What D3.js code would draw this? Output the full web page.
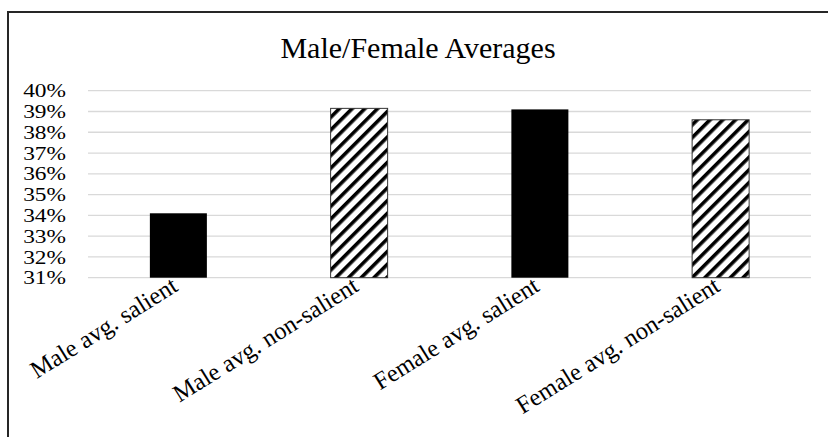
<!DOCTYPE html>
<html>
<head>
<meta charset="utf-8">
<script src="https://cdn.jsdelivr.net/npm/d3@7"></script>
<style>
  body { margin: 0; background: #fff; }
  svg { display: block; }
  text { font-family: "Liberation Serif", "Times New Roman", serif; fill: #000; }
</style>
</head>
<body>
<svg id="chart" width="828" height="437"></svg>
<script>
// Chart content
const chartTitle = "Male/Female Averages";
const categories = ["Male avg. salient", "Male avg. non-salient", "Female avg. salient", "Female avg. non-salient"];
const values = [0.341, 0.3915, 0.391, 0.386];
const barStyles = ["solid", "hatch", "solid", "hatch"];
const yTicks = [0.31, 0.32, 0.33, 0.34, 0.35, 0.36, 0.37, 0.38, 0.39, 0.40];

const svg = d3.select("#chart");
const W = 828, H = 437;
const plot = { left: 88, right: 811, top: 90.7, bottom: 277.7 };

// Diagonal hatch used by the non-salient bars
const defs = svg.append("defs");
const pat = defs.append("pattern")
  .attr("id", "hatch")
  .attr("patternUnits", "userSpaceOnUse")
  .attr("width", 9).attr("height", 9)
  .attr("patternTransform", "rotate(45)");
pat.append("rect").attr("width", 9).attr("height", 9).attr("fill", "#fff");
pat.append("rect").attr("x", 0).attr("width", 3.6).attr("height", 9).attr("fill", "#000");

// Chart frame
svg.append("path")
  .attr("d", `M8,${H} V12 H${W}`)
  .attr("fill", "none")
  .attr("stroke", "#262626")
  .attr("stroke-width", 2);

// Title
svg.append("text")
  .attr("x", 418).attr("y", 58)
  .attr("text-anchor", "middle")
  .attr("font-size", 30)
  .text(chartTitle);

const x = d3.scaleBand()
  .domain(categories)
  .range([plot.left, plot.right])
  .paddingInner(0.6846)
  .paddingOuter(0.3423);

const y = d3.scaleLinear()
  .domain([0.31, 0.40])
  .range([plot.bottom, plot.top]);

// Gridlines
svg.append("g")
  .selectAll("line")
  .data(yTicks)
  .join("line")
  .attr("x1", plot.left).attr("x2", plot.right)
  .attr("y1", d => y(d)).attr("y2", d => y(d))
  .attr("stroke", "#d9d9d9")
  .attr("stroke-width", 1.3);

// Y axis labels (slightly widened serif digits)
const labelStretch = 1.3;
const yAxis = svg.append("g")
  .attr("transform", `translate(${plot.left},0)`)
  .call(d3.axisLeft(y).tickValues(yTicks).tickFormat(d3.format(".0%")).tickSize(0).tickPadding(22));
yAxis.select(".domain").remove();
yAxis.selectAll("text")
  .attr("font-family", "Liberation Serif")
  .attr("font-size", 18)
  .attr("x", -22 / labelStretch)
  .attr("dy", "0.34em")
  .attr("transform", `scale(${labelStretch},1)`)
  .attr("fill", "#000");

// Bars
svg.append("g")
  .selectAll("rect")
  .data(categories)
  .join("rect")
  .attr("x", d => x(d))
  .attr("width", x.bandwidth())
  .attr("y", (d, i) => y(values[i]))
  .attr("height", (d, i) => y(0.31) - y(values[i]))
  .attr("fill", (d, i) => barStyles[i] === "hatch" ? "url(#hatch)" : "#000")
  .attr("stroke", (d, i) => barStyles[i] === "hatch" ? "#333" : "none")
  .attr("stroke-width", 1);

// Category labels, rotated
svg.append("g")
  .selectAll("text")
  .data(categories)
  .join("text")
  .attr("text-anchor", "end")
  .attr("font-size", 24.5)
  .attr("transform", d => `translate(${x(d) + x.bandwidth() / 2 + 1},${290}) rotate(-32)`)
  .text(d => d);
</script>
</body>
</html>
